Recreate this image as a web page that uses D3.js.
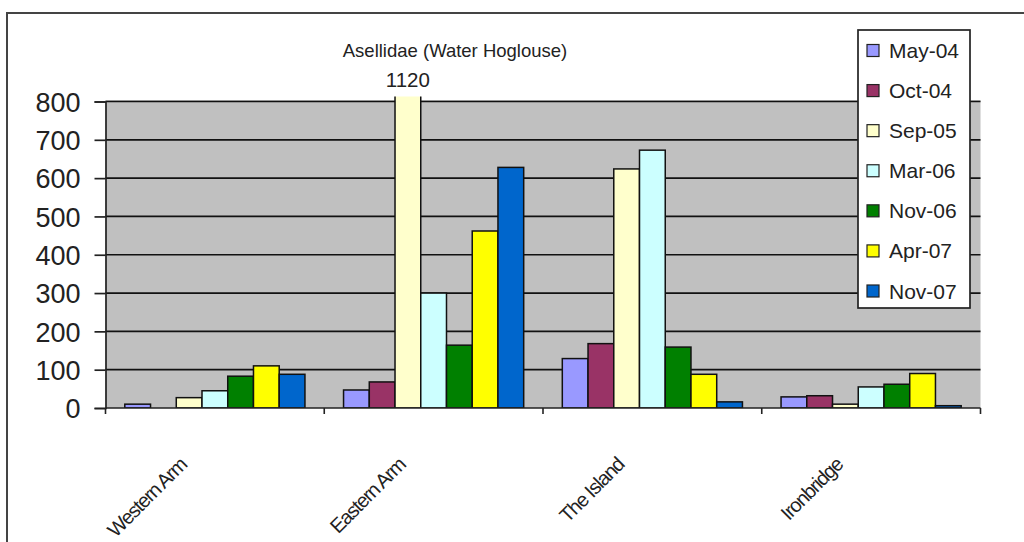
<!DOCTYPE html>
<html>
<head>
<meta charset="utf-8">
<script src="https://cdn.jsdelivr.net/npm/d3@7"></script>
<style>
  html, body { margin: 0; padding: 0; background: #fff; }
  svg { display: block; font-family: "Liberation Sans", Arial, sans-serif; }
</style>
</head>
<body>
<svg id="chart" width="1024" height="542"></svg>
<script>
// Sampling sites along the x axis
const sites = ["Western Arm", "Eastern Arm", "The Island", "Ironbridge"];
// Survey dates (one bar per date within each site)
const surveys = ["May-04", "Oct-04", "Sep-05", "Mar-06", "Nov-06", "Apr-07", "Nov-07"];
// Counts per survey, in site order
const may04 = [10, 47, 129, 29];
const oct04 = [0, 68, 168, 32];
const sep05 = [27, 1120, 624, 10];
const mar06 = [45, 300, 673, 55];
const nov06 = [83, 164, 159, 62];
const apr07 = [110, 462, 88, 90];
const nov07 = [88, 628, 16, 6];
const yTicks = [0, 100, 200, 300, 400, 500, 600, 700, 800];
const colors = ["#9999FF", "#993366", "#FFFFCC", "#CCFFFF", "#008000", "#FFFF00", "#0066CC"];

const seriesValues = [may04, oct04, sep05, mar06, nov06, apr07, nov07];

const svg = d3.select("#chart");
const plot = { left: 105.5, right: 980.5, top: 101.5, bottom: 408 };

// Outer chart frame
svg.append("rect")
  .attr("x", 7).attr("y", 13).attr("width", 1040).attr("height", 560)
  .attr("fill", "#fff").attr("stroke", "#444").attr("stroke-width", 2);

const x = d3.scaleBand().domain(sites).range([plot.left, plot.right]).paddingInner(0).paddingOuter(0);
const y = d3.scaleLinear().domain([0, 800]).range([plot.bottom, plot.top]);

// Plot background
svg.append("rect")
  .attr("x", plot.left).attr("y", plot.top - 1.5)
  .attr("width", plot.right - plot.left).attr("height", plot.bottom - plot.top + 1.5)
  .attr("fill", "#C0C0C0");

// Horizontal gridlines
svg.append("g")
  .selectAll("line")
  .data(yTicks.filter(d => d > 0))
  .join("line")
  .attr("x1", plot.left).attr("x2", plot.right)
  .attr("y1", d => y(d)).attr("y2", d => y(d))
  .attr("stroke", "#111").attr("stroke-width", 1.7);

svg.append("defs").append("clipPath").attr("id", "plotClip")
  .append("rect")
  .attr("x", plot.left).attr("y", plot.top - 5)
  .attr("width", plot.right - plot.left).attr("height", plot.bottom - plot.top + 5);

// Bars: Excel-style clustered columns with 150% gap width
const bandW = x.bandwidth();
const barW = bandW / (surveys.length + 1.5);
const inner = d3.scaleBand().domain(surveys)
  .range([barW * 0.75, barW * 0.75 + barW * surveys.length]);

const barData = [];
sites.forEach((s, i) => {
  surveys.forEach((sv, j) => {
    barData.push({ site: s, survey: sv, value: seriesValues[j][i], color: colors[j] });
  });
});

svg.append("g").attr("clip-path", "url(#plotClip)")
  .selectAll("rect")
  .data(barData.filter(d => d.value > 0))
  .join("rect")
  .attr("x", d => x(d.site) + inner(d.survey))
  .attr("y", d => y(d.value))
  .attr("width", inner.bandwidth())
  .attr("height", d => y(0) - y(d.value))
  .attr("fill", d => d.color)
  .attr("stroke", "#111").attr("stroke-width", 1.5);

// Value label for the off-scale column
const big = barData.find(d => d.value > 800);
svg.append("text")
  .attr("x", x(big.site) + inner(big.survey) + inner.bandwidth() / 2)
  .attr("y", 87)
  .attr("text-anchor", "middle")
  .attr("font-size", 20.5)
  .attr("fill", "#222")
  .text(big.value);

// Y axis
const yAxis = svg.append("g").attr("transform", `translate(${plot.left},0)`)
  .call(d3.axisLeft(y).tickValues(yTicks).tickSize(11).tickPadding(14));
yAxis.select(".domain").attr("stroke", "#222").attr("stroke-width", 1.7);
yAxis.selectAll(".tick line").attr("stroke", "#222").attr("stroke-width", 1.7);
yAxis.selectAll(".tick text")
  .attr("font-size", 27).attr("fill", "#222")
  .attr("font-family", "\"Liberation Sans\", Arial, sans-serif")
  .attr("dy", "0.36em");

// X axis line and category separators
svg.append("line")
  .attr("x1", plot.left).attr("x2", plot.right)
  .attr("y1", plot.bottom).attr("y2", plot.bottom)
  .attr("stroke", "#222").attr("stroke-width", 1.7);
const boundaries = sites.map(s => x(s)).concat([plot.right]);
svg.append("g").selectAll("line")
  .data(boundaries)
  .join("line")
  .attr("x1", d => d).attr("x2", d => d)
  .attr("y1", plot.bottom).attr("y2", plot.bottom + 6)
  .attr("stroke", "#222").attr("stroke-width", 1.6);

// Rotated category labels
svg.append("g").selectAll("text")
  .data(sites)
  .join("text")
  .attr("transform", d => `translate(${x(d) + bandW / 2 - 27},466) rotate(-45)`)
  .attr("text-anchor", "end")
  .attr("font-size", 20)
  .attr("letter-spacing", -1.2)
  .attr("fill", "#222")
  .text(d => d);

// Title
svg.append("text")
  .attr("x", 455).attr("y", 57)
  .attr("text-anchor", "middle")
  .attr("font-size", 18.5)
  .attr("fill", "#222")
  .text("Asellidae (Water Hoglouse)");

// Legend
const legend = svg.append("g");
legend.append("rect")
  .attr("x", 858).attr("y", 30).attr("width", 112).attr("height", 278)
  .attr("fill", "#fff").attr("stroke", "#222").attr("stroke-width", 1.7);
const ly = d3.scalePoint().domain(surveys).range([50.5, 291]);
const items = legend.selectAll("g.item")
  .data(surveys)
  .join("g")
  .attr("class", "item")
  .attr("transform", (d, i) => `translate(867,${ly(d)})`);
items.append("rect")
  .attr("x", 0).attr("y", -6).attr("width", 12).attr("height", 12)
  .attr("fill", (d, i) => colors[i])
  .attr("stroke", "#222").attr("stroke-width", 1.2);
items.append("text")
  .attr("x", 22).attr("y", 7.5)
  .attr("font-size", 21)
  .attr("fill", "#222")
  .text(d => d);
</script>
</body>
</html>
